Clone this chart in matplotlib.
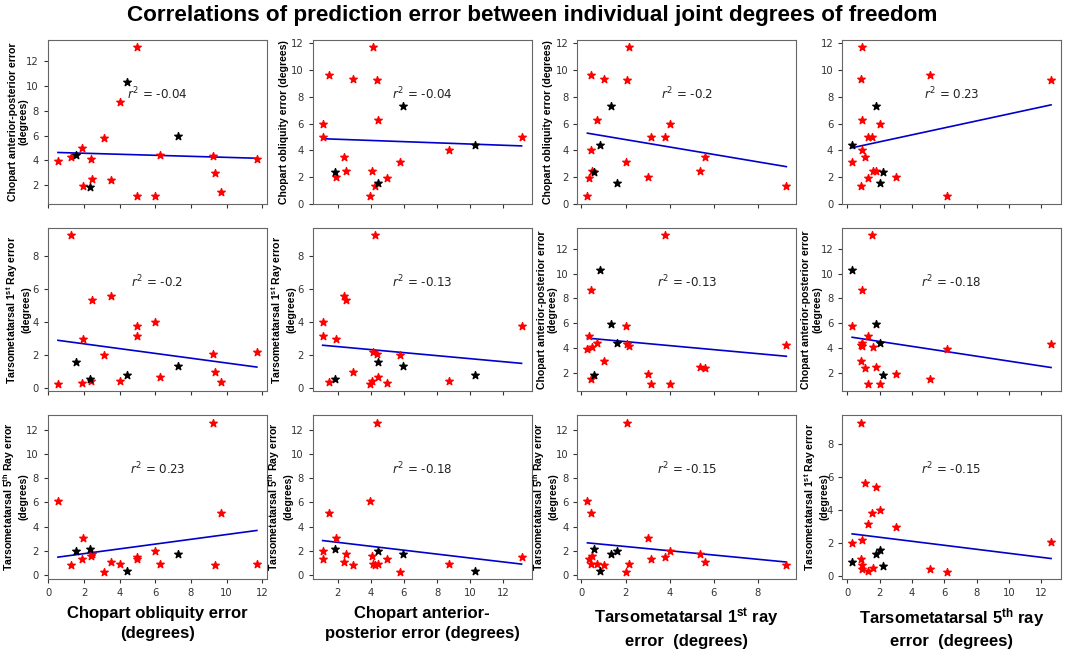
import numpy as np
import matplotlib
matplotlib.use("Agg")
import matplotlib.pyplot as plt

plt.rcParams['mathtext.fontset'] = 'custom'
plt.rcParams['mathtext.rm'] = 'Liberation Sans'
plt.rcParams['mathtext.bf'] = 'Liberation Sans:bold'
plt.rcParams['mathtext.it'] = 'Liberation Sans:italic'

# per-subject errors (degrees), red group
co_red = [0.54, 1.30, 1.88, 1.97, 2.41, 2.46, 3.12, 3.50, 4.02, 4.96, 4.96, 6.00, 6.24, 9.25, 9.37, 9.67, 11.70]
ca_red = [3.94, 4.28, 5.00, 1.92, 4.08, 2.48, 5.78, 2.40, 8.70, 13.10, 1.10, 1.12, 4.42, 4.36, 2.95, 1.47, 4.14]
t1_red = [0.27, 9.30, 0.32, 3.00, 0.46, 5.38, 2.02, 5.63, 0.42, 3.81, 3.17, 4.01, 0.69, 2.08, 1.01, 0.41, 2.18]
t5_red = [6.14, 0.86, 1.29, 3.03, 1.57, 1.78, 0.29, 1.06, 0.91, 1.51, 1.30, 2.03, 0.91, 12.60, 0.86, 5.09, 0.91]

# black group
co_blk = [1.55, 4.39, 7.28, 2.34]
ca_blk = [4.42, 10.28, 5.94, 1.86]
t1_blk = [1.60, 0.82, 1.35, 0.59]
t5_blk = [2.03, 0.31, 1.74, 2.19]

joints = ['co', 'ca', 't1', 't5']
red = {'co': co_red, 'ca': ca_red, 't1': t1_red, 't5': t5_red}
blk = {'co': co_blk, 'ca': ca_blk, 't1': t1_blk, 't5': t5_blk}

# y variable per row/col (x variable is the column joint)
y_vars = [['ca', 'co', 'co', 'co'],
          ['t1', 't1', 'ca', 'ca'],
          ['t5', 't5', 't5', 't1']]
r2_text = [['-0.04', '-0.04', '-0.2', '0.23'],
           ['-0.2', '-0.13', '-0.13', '-0.18'],
           ['0.23', '-0.18', '-0.15', '-0.15']]

lab_co = 'Chopart obliquity error (degrees)'
lab_ca = 'Chopart anterior-posterior error\n(degrees)'
lab_t1 = 'Tarsometatarsal 1$^{\\mathbf{st}}$ Ray error\n(degrees)'
lab_t5 = 'Tarsometatarsal 5$^{\\mathbf{th}}$ Ray error\n(degrees)'
y_labels = [[lab_ca, lab_co, lab_co, None],
            [lab_t1, lab_t1, lab_ca, lab_ca],
            [lab_t5, lab_t5, lab_t5, lab_t1]]
# right edge of the y label block, in axes fraction
y_label_x = [[-0.088, -0.11, -0.11, 0],
             [-0.075, -0.075, -0.09, -0.09],
             [-0.09, -0.088, -0.088, -0.06]]

x_labels = ['Chopart obliquity error\n(degrees)',
            'Chopart anterior-\nposterior error (degrees)',
            'Tarsometatarsal 1$^{\\mathbf{st}}$ ray\nerror  (degrees)',
            'Tarsometatarsal 5$^{\\mathbf{th}}$ ray\nerror  (degrees)']

fig, axes = plt.subplots(3, 4, figsize=(10.65, 6.5), dpi=100, sharex='col')
fig.subplots_adjust(left=48/1065, right=1061/1065, top=1-40/650, bottom=1-579/650,
                    wspace=0.21, hspace=0.145)

for i in range(3):
    for j in range(4):
        ax = axes[i, j]
        xv, yv = joints[j], y_vars[i][j]
        ax.scatter(red[xv], red[yv], marker='*', s=32, color='red', zorder=3)
        ax.scatter(blk[xv], blk[yv], marker='*', s=32, color='black', zorder=3)

        # linear fit over all points
        xa = np.array(red[xv] + blk[xv])
        ya = np.array(red[yv] + blk[yv])
        m, b = np.polyfit(xa, ya, 1)
        xx = np.array([xa.min(), xa.max()])
        ax.plot(xx, m * xx + b, color='#0000cc', lw=1.2, zorder=2)

        ax.text(0.5, 0.67, '$r^2$ = ' + r2_text[i][j], transform=ax.transAxes,
                ha='center', va='center', fontsize=8.6, color='#222222',
                math_fontfamily='dejavusans')

        if y_labels[i][j]:
            ax.set_ylabel(y_labels[i][j], fontsize=7.6, fontweight='bold',
                          family='Liberation Sans', linespacing=1.15)
            ax.yaxis.set_label_coords(y_label_x[i][j], 0.5)

        ax.tick_params(labelsize=7.2, colors='#333333', length=3)
        for s in ax.spines.values():
            s.set_color('#666666')

for j in range(4):
    axes[2, j].set_xlabel(x_labels[j], fontsize=12, fontweight='bold',
                          family='Liberation Sans', labelpad=6, linespacing=1.4)

fig.suptitle('Correlations of prediction error between individual joint degrees of freedom',
             fontsize=16.2, fontweight='bold', family='Liberation Sans', y=0.992)

fig.savefig('out.png', dpi=100)
